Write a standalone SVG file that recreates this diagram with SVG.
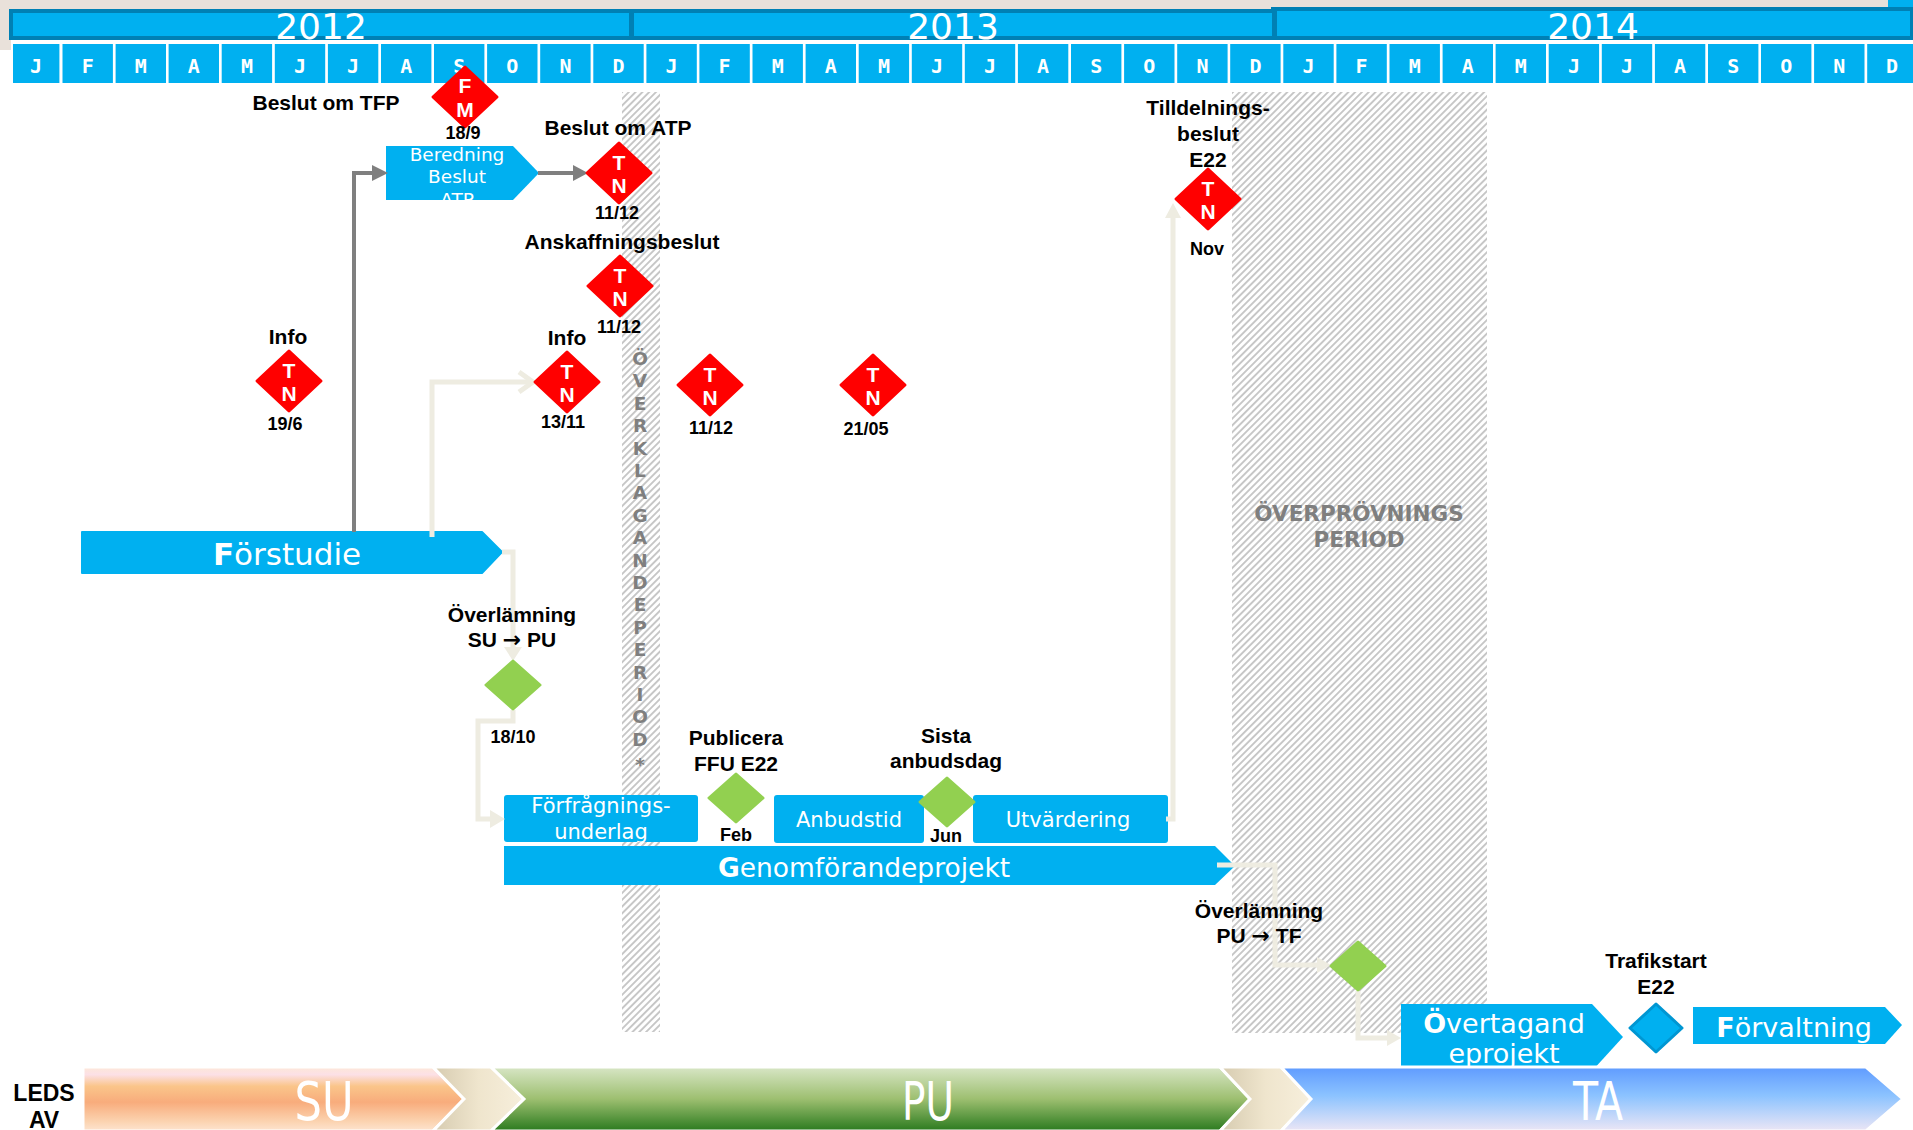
<svg xmlns="http://www.w3.org/2000/svg" width="1913" height="1130" viewBox="0 0 1913 1130">
<defs>
<style>
.lbl{font-family:"Liberation Sans",Arial,sans-serif;font-weight:bold;font-size:21px;fill:#000;text-anchor:middle}
.arr{font-family:"DejaVu Sans",sans-serif;font-weight:bold;font-size:22px}
.dt{font-family:"Liberation Sans",Arial,sans-serif;font-weight:bold;font-size:18px;fill:#000;text-anchor:middle}
.tn{font-family:"Liberation Sans",Arial,sans-serif;font-weight:bold;font-size:21px;fill:#fff;text-anchor:middle}
.bx{font-family:"DejaVu Sans",Verdana,sans-serif;fill:#fff;text-anchor:middle}
.mon{font-family:"DejaVu Sans Mono",monospace;font-weight:bold;font-size:20px;fill:#fff;text-anchor:middle}
.yr{font-family:"DejaVu Sans",sans-serif;font-size:36px;fill:#fff;text-anchor:middle}
.per{font-family:"DejaVu Sans",sans-serif;font-weight:bold;fill:#7f7f7f;text-anchor:middle}
.blue{fill:#00b0f0}
.cl{fill:none;stroke:#eeece1;stroke-width:5}
.cla{fill:#eeece1}
.cg{fill:none;stroke:#7f7f7f;stroke-width:4}
.cga{fill:#7f7f7f}
.band{font-family:"DejaVu Sans",sans-serif;font-size:54px;fill:#fff;text-anchor:middle}
.leds{font-family:"Liberation Sans",Arial,sans-serif;font-weight:bold;font-size:23px;fill:#000;text-anchor:middle}
</style>
<pattern id="hatch" patternUnits="userSpaceOnUse" width="4.8" height="4.8" patternTransform="rotate(45)">
<rect width="4.8" height="4.8" fill="#fff"/>
<rect width="1.9" height="4.8" fill="#c6c6c6"/>
</pattern>
<path id="dmR" d="M0,-30 L32,0 L0,30 L-32,0 Z" fill="#ff0000" stroke="#ff0000" stroke-width="3" stroke-linejoin="round"/>
<path id="dmG" d="M0,-24 L27,0 L0,24 L-27,0 Z" fill="#92d050" stroke="#92d050" stroke-width="3" stroke-linejoin="round"/>
<linearGradient id="gSU" x1="0" y1="0" x2="0" y2="1">
<stop offset="0" stop-color="#fde8d8"/><stop offset="0.12" stop-color="#fce0e6"/><stop offset="0.3" stop-color="#fac58a"/><stop offset="0.55" stop-color="#f8ac7c"/><stop offset="0.85" stop-color="#fbd3b0"/><stop offset="1" stop-color="#fde4d0"/>
</linearGradient>
<linearGradient id="gPU" x1="0" y1="0" x2="0" y2="1">
<stop offset="0" stop-color="#d8e6c6"/><stop offset="0.5" stop-color="#9dbf70"/><stop offset="1" stop-color="#2a7a1e"/>
</linearGradient>
<linearGradient id="gTA" x1="0" y1="0" x2="0" y2="1">
<stop offset="0" stop-color="#5f9bff"/><stop offset="0.45" stop-color="#8cc3ff"/><stop offset="1" stop-color="#ece6f5"/>
</linearGradient>
<linearGradient id="gBG" x1="0" y1="0" x2="1" y2="0">
<stop offset="0" stop-color="#d6cbb0"/><stop offset="0.5" stop-color="#efe5cd"/><stop offset="1" stop-color="#f7efdc"/>
</linearGradient>
<clipPath id="clipBer"><path d="M386,146 H513 L539,173 L513,200 H386 Z"/></clipPath>
<clipPath id="clipFor"><rect x="504" y="795" width="194" height="47"/></clipPath>
</defs>

<rect width="1913" height="1130" fill="#fff"/>

<g id="timeline">
<rect x="0" y="0" width="1888" height="9" fill="#e9e1da"/>
<rect x="0" y="0" width="11" height="50" fill="#e9e1da"/>
<rect x="1888" y="0" width="25" height="9" fill="#00b0f0"/>
<rect x="9" y="9" width="1904" height="31" fill="#0080b4"/>
<rect x="1271" y="7" width="642" height="33" fill="#0080b4"/>
<rect x="13" y="13" width="616" height="23" class="blue"/>
<rect x="634" y="13" width="638" height="23" class="blue"/>
<rect x="1277" y="11" width="633" height="25" class="blue"/>
<text class="yr" x="321" y="39">2012</text>
<text class="yr" x="953" y="39">2013</text>
<text class="yr" x="1593" y="39">2014</text>
<g class="blue">
<rect x="13" y="44" width="46.4" height="39"/>
<rect x="62.5" y="44" width="50.4" height="39"/>
<rect x="115.6" y="44" width="50.4" height="39"/>
<rect x="168.6" y="44" width="50.4" height="39"/>
<rect x="221.7" y="44" width="50.4" height="39"/>
<rect x="274.8" y="44" width="50.4" height="39"/>
<rect x="327.9" y="44" width="50.4" height="39"/>
<rect x="381" y="44" width="50.4" height="39"/>
<rect x="434" y="44" width="50.4" height="39"/>
<rect x="487.1" y="44" width="50.4" height="39"/>
<rect x="540.2" y="44" width="50.4" height="39"/>
<rect x="593.3" y="44" width="50.4" height="39"/>
<rect x="646.4" y="44" width="50.4" height="39"/>
<rect x="699.4" y="44" width="50.4" height="39"/>
<rect x="752.5" y="44" width="50.4" height="39"/>
<rect x="805.6" y="44" width="50.4" height="39"/>
<rect x="858.7" y="44" width="50.4" height="39"/>
<rect x="911.8" y="44" width="50.4" height="39"/>
<rect x="964.8" y="44" width="50.4" height="39"/>
<rect x="1017.9" y="44" width="50.4" height="39"/>
<rect x="1071" y="44" width="50.4" height="39"/>
<rect x="1124.1" y="44" width="50.4" height="39"/>
<rect x="1177.2" y="44" width="50.4" height="39"/>
<rect x="1230.2" y="44" width="50.4" height="39"/>
<rect x="1283.3" y="44" width="50.4" height="39"/>
<rect x="1336.4" y="44" width="50.4" height="39"/>
<rect x="1389.5" y="44" width="50.4" height="39"/>
<rect x="1442.6" y="44" width="50.4" height="39"/>
<rect x="1495.6" y="44" width="50.4" height="39"/>
<rect x="1548.7" y="44" width="50.4" height="39"/>
<rect x="1601.8" y="44" width="50.4" height="39"/>
<rect x="1654.9" y="44" width="50.4" height="39"/>
<rect x="1708" y="44" width="50.4" height="39"/>
<rect x="1761" y="44" width="50.4" height="39"/>
<rect x="1814.1" y="44" width="50.4" height="39"/>
<rect x="1867.2" y="44" width="50.4" height="39"/>
</g>
<g class="mon">
<text x="36" y="73">J</text><text x="87.7" y="73">F</text><text x="140.8" y="73">M</text><text x="193.8" y="73">A</text><text x="246.9" y="73">M</text><text x="300" y="73">J</text><text x="353.1" y="73">J</text><text x="406.2" y="73">A</text><text x="459.2" y="73">S</text><text x="512.3" y="73">O</text><text x="565.4" y="73">N</text><text x="618.5" y="73">D</text>
<text x="671.6" y="73">J</text><text x="724.6" y="73">F</text><text x="777.7" y="73">M</text><text x="830.8" y="73">A</text><text x="883.9" y="73">M</text><text x="937" y="73">J</text><text x="990" y="73">J</text><text x="1043.1" y="73">A</text><text x="1096.2" y="73">S</text><text x="1149.3" y="73">O</text><text x="1202.4" y="73">N</text><text x="1255.4" y="73">D</text>
<text x="1308.5" y="73">J</text><text x="1361.6" y="73">F</text><text x="1414.7" y="73">M</text><text x="1467.8" y="73">A</text><text x="1520.8" y="73">M</text><text x="1573.9" y="73">J</text><text x="1627" y="73">J</text><text x="1680.1" y="73">A</text><text x="1733.2" y="73">S</text><text x="1786.2" y="73">O</text><text x="1839.3" y="73">N</text><text x="1892" y="73">D</text>
</g>
</g>

<g id="overklagandeperiod">
<rect x="622" y="92" width="38" height="940" fill="url(#hatch)"/>
<text class="per" font-size="18.5">
<tspan x="640" y="365">Ö</tspan><tspan x="640" y="387.4">V</tspan><tspan x="640" y="409.8">E</tspan><tspan x="640" y="432.2">R</tspan><tspan x="640" y="454.6">K</tspan><tspan x="640" y="477">L</tspan><tspan x="640" y="499.4">A</tspan><tspan x="640" y="521.8">G</tspan><tspan x="640" y="544.2">A</tspan><tspan x="640" y="566.6">N</tspan><tspan x="640" y="589">D</tspan><tspan x="640" y="611.4">E</tspan><tspan x="640" y="633.8">P</tspan><tspan x="640" y="656.2">E</tspan><tspan x="640" y="678.6">R</tspan><tspan x="640" y="701">I</tspan><tspan x="640" y="723.4">O</tspan><tspan x="640" y="745.8">D</tspan><tspan x="640" y="771">*</tspan>
</text>
</g>

<g id="overprovningsperiod">
<rect x="1232" y="92" width="255" height="941" fill="url(#hatch)"/>
<text class="per" font-size="21.5" x="1359" y="521">ÖVERPRÖVNINGS</text>
<text class="per" font-size="21.5" x="1359" y="547">PERIOD</text>
</g>

<g id="node-forstudie">
<path class="blue" d="M82,532 H482 L502,552 L482,573 H82 Z" stroke="#00b0f0" stroke-width="2" stroke-linejoin="round"/>
<text class="bx" x="287" y="565" font-size="31"><tspan font-weight="bold">F</tspan>örstudie</text>
</g>

<g id="node-beredning">
<path class="blue" d="M386,146 H513 L539,173 L513,200 H386 Z"/>
<g clip-path="url(#clipBer)">
<text class="bx" font-size="18.5" x="457" y="160.5">Beredning</text>
<text class="bx" font-size="18.5" x="457" y="183">Beslut</text>
<text class="bx" font-size="18.5" x="457" y="206">ATP</text>
</g>
</g>

<g id="node-forfragningsunderlag">
<rect class="blue" x="504" y="795" width="194" height="47" rx="3"/>
<g clip-path="url(#clipFor)">
<text class="bx" font-size="21" x="601" y="813">Förfrågnings-</text>
<text class="bx" font-size="21" x="601" y="839">underlag</text>
</g>
</g>

<g id="node-anbudstid">
<rect class="blue" x="774" y="795" width="150" height="48" rx="3"/>
<text class="bx" font-size="21" x="849" y="827">Anbudstid</text>
</g>

<g id="node-utvardering">
<rect class="blue" x="973" y="795" width="195" height="48" rx="3"/>
<text class="bx" font-size="21" x="1068" y="827">Utvärdering</text>
</g>

<g id="node-genomforandeprojekt">
<path class="blue" d="M504,846 H1215 L1235,866 L1215,885 H504 Z"/>
<text class="bx" x="864" y="877" font-size="26.5"><tspan font-weight="bold">G</tspan>enomförandeprojekt</text>
</g>

<g id="node-overtagandeprojekt">
<path class="blue" d="M1401,1004 H1592 L1623,1037 L1592,1071 H1401 Z"/>
<text class="bx" x="1504" y="1033" font-size="27"><tspan font-weight="bold">Ö</tspan>vertagand</text>
<text class="bx" x="1504" y="1063" font-size="27">eprojekt</text>
</g>

<g id="node-forvaltning">
<path class="blue" d="M1693,1007 H1885 L1902,1025 L1885,1044 H1693 Z"/>
<text class="bx" x="1794" y="1037" font-size="27"><tspan font-weight="bold">F</tspan>örvaltning</text>
</g>

<g id="connectors">
<path class="cg" d="M354,532 V173 H373"/>
<polygon class="cga" points="372,165 388,173 372,181"/>
<path class="cg" d="M538,173 H575"/>
<polygon class="cga" points="573,165 588,173 573,181"/>
<path class="cl" d="M432,537 V382 H532"/>
<polyline class="cl" stroke-width="4" points="519,372 533,382 519,392"/>
<path class="cl" d="M502,552 H513 V648"/>
<polygon class="cla" points="504,647 522,647 513,661"/>
<path class="cl" d="M513,710 V721 H478 V819 H492"/>
<polygon class="cla" points="490,810 505,819 490,828"/>
<path class="cl" d="M1166,819 H1173 V216"/>
<polygon class="cla" points="1165,218 1173,203 1181,218"/>
<path class="cl" d="M1217,865 H1275 V965 H1318"/>
<polygon class="cla" points="1317,957 1331,965 1317,973"/>
<path class="cl" d="M1358,991 V1038 H1388"/>
<polygon class="cla" points="1387,1030 1401,1038 1387,1046"/>
</g>

<g id="ms-beslut-tfp">
<text class="lbl" x="326" y="110">Beslut om TFP</text>
<use href="#dmR" x="465" y="97"/>
<text class="tn" x="465" y="93" font-size="20">F</text>
<text class="tn" x="465" y="116.5" font-size="20">M</text>
<text class="dt" x="463" y="139">18/9</text>
</g>

<g id="ms-beslut-atp">
<text class="lbl" x="618" y="135">Beslut om ATP</text>
<use href="#dmR" x="619" y="173"/>
<text class="tn" x="619" y="170">T</text>
<text class="tn" x="619" y="193">N</text>
<text class="dt" x="617" y="219">11/12</text>
</g>

<g id="ms-anskaffningsbeslut">
<text class="lbl" x="622" y="249">Anskaffningsbeslut</text>
<use href="#dmR" x="620" y="286"/>
<text class="tn" x="620" y="283">T</text>
<text class="tn" x="620" y="306">N</text>
<text class="dt" x="619" y="333">11/12</text>
</g>

<g id="ms-info-1">
<text class="lbl" x="288" y="344">Info</text>
<use href="#dmR" x="289" y="381"/>
<text class="tn" x="289" y="378">T</text>
<text class="tn" x="289" y="401">N</text>
<text class="dt" x="285" y="430">19/6</text>
</g>

<g id="ms-info-2">
<text class="lbl" x="567" y="345">Info</text>
<use href="#dmR" x="567" y="382"/>
<text class="tn" x="567" y="379">T</text>
<text class="tn" x="567" y="402">N</text>
<text class="dt" x="563" y="428">13/11</text>
</g>

<g id="ms-tn-1112">
<use href="#dmR" x="710" y="385"/>
<text class="tn" x="710" y="382">T</text>
<text class="tn" x="710" y="405">N</text>
<text class="dt" x="711" y="434">11/12</text>
</g>

<g id="ms-tn-2105">
<use href="#dmR" x="873" y="385"/>
<text class="tn" x="873" y="382">T</text>
<text class="tn" x="873" y="405">N</text>
<text class="dt" x="866" y="435">21/05</text>
</g>

<g id="ms-tilldelningsbeslut">
<text class="lbl" x="1208" y="115">Tilldelnings-</text>
<text class="lbl" x="1208" y="141">beslut</text>
<text class="lbl" x="1208" y="167">E22</text>
<use href="#dmR" x="1208" y="199"/>
<text class="tn" x="1208" y="196">T</text>
<text class="tn" x="1208" y="219">N</text>
<text class="dt" x="1207" y="255">Nov</text>
</g>

<g id="ms-overlamning-su-pu">
<text class="lbl" x="512" y="622">Överlämning</text>
<text class="lbl" x="512" y="647">SU <tspan class="arr">→</tspan> PU</text>
<use href="#dmG" x="513" y="685"/>
<text class="dt" x="513" y="743">18/10</text>
</g>

<g id="ms-publicera-ffu">
<text class="lbl" x="736" y="745">Publicera</text>
<text class="lbl" x="736" y="771">FFU E22</text>
<use href="#dmG" x="736" y="798"/>
<text class="dt" x="736" y="841">Feb</text>
</g>

<g id="ms-sista-anbudsdag">
<text class="lbl" x="946" y="743">Sista</text>
<text class="lbl" x="946" y="768">anbudsdag</text>
<use href="#dmG" x="947" y="802"/>
<text class="dt" x="946" y="842">Jun</text>
</g>

<g id="ms-overlamning-pu-tf">
<text class="lbl" x="1259" y="918">Överlämning</text>
<text class="lbl" x="1259" y="943">PU <tspan class="arr">→</tspan> TF</text>
<use href="#dmG" x="1358" y="966"/>
</g>

<g id="ms-trafikstart">
<text class="lbl" x="1656" y="968">Trafikstart</text>
<text class="lbl" x="1656" y="994">E22</text>
<path d="M1656,1004 L1682,1028 L1656,1052 L1630,1028 Z" fill="#00b0f0" stroke="#0096d2" stroke-width="3" stroke-linejoin="round"/>
</g>

<g id="leds-av">
<text class="leds" x="44" y="1101">LEDS</text>
<text class="leds" x="44" y="1128">AV</text>
<g stroke="#fff" stroke-width="3" stroke-linejoin="miter">
<path d="M83,1067 H433 L464,1099 L433,1131 H83 Z" fill="url(#gSU)"/>
<path d="M433,1067 H491 L524,1099 L491,1131 H433 L464,1099 Z" fill="url(#gBG)"/>
<path d="M491,1067 H1220 L1250,1099 L1220,1131 H491 L524,1099 Z" fill="url(#gPU)"/>
<path d="M1220,1067 H1281 L1311,1099 L1281,1131 H1220 L1250,1099 Z" fill="url(#gBG)"/>
<path d="M1281,1067 H1866 L1903,1099 L1866,1131 H1281 L1311,1099 Z" fill="url(#gTA)"/>
</g>
<text class="band" x="324" y="1120" textLength="59" lengthAdjust="spacingAndGlyphs">SU</text>
<text class="band" x="928" y="1120" textLength="52" lengthAdjust="spacingAndGlyphs">PU</text>
<text class="band" x="1598" y="1120" textLength="50" lengthAdjust="spacingAndGlyphs">TA</text>
</g>
</svg>
